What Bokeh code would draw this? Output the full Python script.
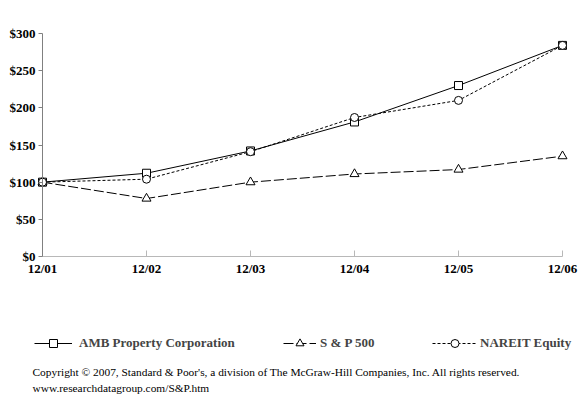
from bokeh.plotting import figure
from bokeh.models import Range1d, FixedTicker, Legend, LegendItem, Label
from bokeh.embed import file_html
from bokeh.resources import INLINE

years = ["12/01", "12/02", "12/03", "12/04", "12/05", "12/06"]
amb = [100, 112, 142, 181, 230, 284]
sp500 = [100, 78, 100, 111, 117, 135]
nareit = [100, 104, 141, 187, 210, 284]
y_ticks = [0, 50, 100, 150, 200, 250, 300]
y_labels = ["$0", "$50", "$100", "$150", "$200", "$250", "$300"]
names = ["AMB Property Corporation", "S & P 500", "NAREIT Equity"]
copyright_lines = [
    "Copyright \u00a9 2007, Standard & Poor's, a division of The McGraw-Hill Companies, Inc. All rights reserved.",
    "www.researchdatagroup.com/S&P.htm",
]

FONT = "Liberation Serif"
W, H = 580, 397
# plot area in pixels: x 0..5 -> 42..562, y 0..300 -> 256..33
px_x = 104.0
px_y = 223.0 / 300.0
xs = list(range(len(years)))

p = figure(width=W, height=H, output_backend="svg", toolbar_location=None,
           x_range=Range1d(-42 / px_x, 5 + (W - 562) / px_x),
           y_range=Range1d(-(H - 256) / px_y, 300 + 33 / px_y),
           min_border=0, min_border_left=0, min_border_right=0,
           min_border_top=0, min_border_bottom=0)
p.outline_line_color = None
p.grid.visible = False
p.background_fill_color = "white"
p.border_fill_color = "white"

# axes
p.xaxis.fixed_location = 0
p.xaxis.bounds = (0, 5)
p.xaxis.ticker = FixedTicker(ticks=xs)
p.xaxis.major_label_overrides = {i: s for i, s in enumerate(years)}
p.xaxis.axis_line_color = "#b8b8b8"
p.xaxis.major_tick_line_color = "#b8b8b8"
p.xaxis.major_tick_in = 6
p.xaxis.major_tick_out = 0
p.xaxis.minor_tick_line_color = None
p.xaxis.major_label_standoff = 4

p.yaxis.fixed_location = 0
p.yaxis.bounds = (0, 300)
p.yaxis.ticker = FixedTicker(ticks=y_ticks)
p.yaxis.major_label_overrides = {v: s for v, s in zip(y_ticks, y_labels)}
p.yaxis.axis_line_color = "#808080"
p.yaxis.major_tick_line_color = "#808080"
p.yaxis.major_tick_in = 0
p.yaxis.major_tick_out = 4
p.yaxis.minor_tick_line_color = None
p.yaxis.major_label_standoff = 3

for ax in (p.xaxis, p.yaxis):
    ax.major_label_text_font = FONT
    ax.major_label_text_font_style = "bold"
    ax.major_label_text_font_size = "13px"
    ax.major_label_text_color = "black"

# series
l1 = p.line(xs, amb, line_color="black", line_width=1)
m1 = p.scatter(xs, amb, marker="square", size=8, line_color="black", fill_color="white")
l2 = p.line(xs, sp500, line_color="black", line_width=1, line_dash="10 3")
m2 = p.scatter(xs, sp500, marker="triangle", size=9, line_color="black", fill_color="white")
l3 = p.line(xs, nareit, line_color="black", line_width=1, line_dash="3 2")
m3 = p.scatter(xs, nareit, marker="circle", size=8, line_color="black", fill_color="white")

legend_specs = [
    (names[0], [l1, m1], 34, 38, 7),
    (names[1], [l2, m2], 283, 33, 4),
    (names[2], [l3, m3], 432, 45, 3),
]
for name, rends, vx, gw, so in legend_specs:
    lg = Legend(items=[LegendItem(label=name, renderers=rends)],
                location=(vx, H - 353), glyph_width=gw, glyph_height=20, label_height=20,
                label_standoff=so, padding=0, margin=0, border_line_color=None,
                background_fill_alpha=0, label_text_font=FONT, label_text_font_style="bold",
                label_text_font_size="13px")
    p.add_layout(lg, "center")

for i, (line, yc) in enumerate(zip(copyright_lines, [371, 387])):
    p.add_layout(Label(x=32, y=H - yc, x_units="screen", y_units="screen", text=line,
                       text_font=FONT, text_font_size="11.4px", text_baseline="middle",
                       text_color="black"))

open("out.html", "w").write(file_html(p, INLINE))
